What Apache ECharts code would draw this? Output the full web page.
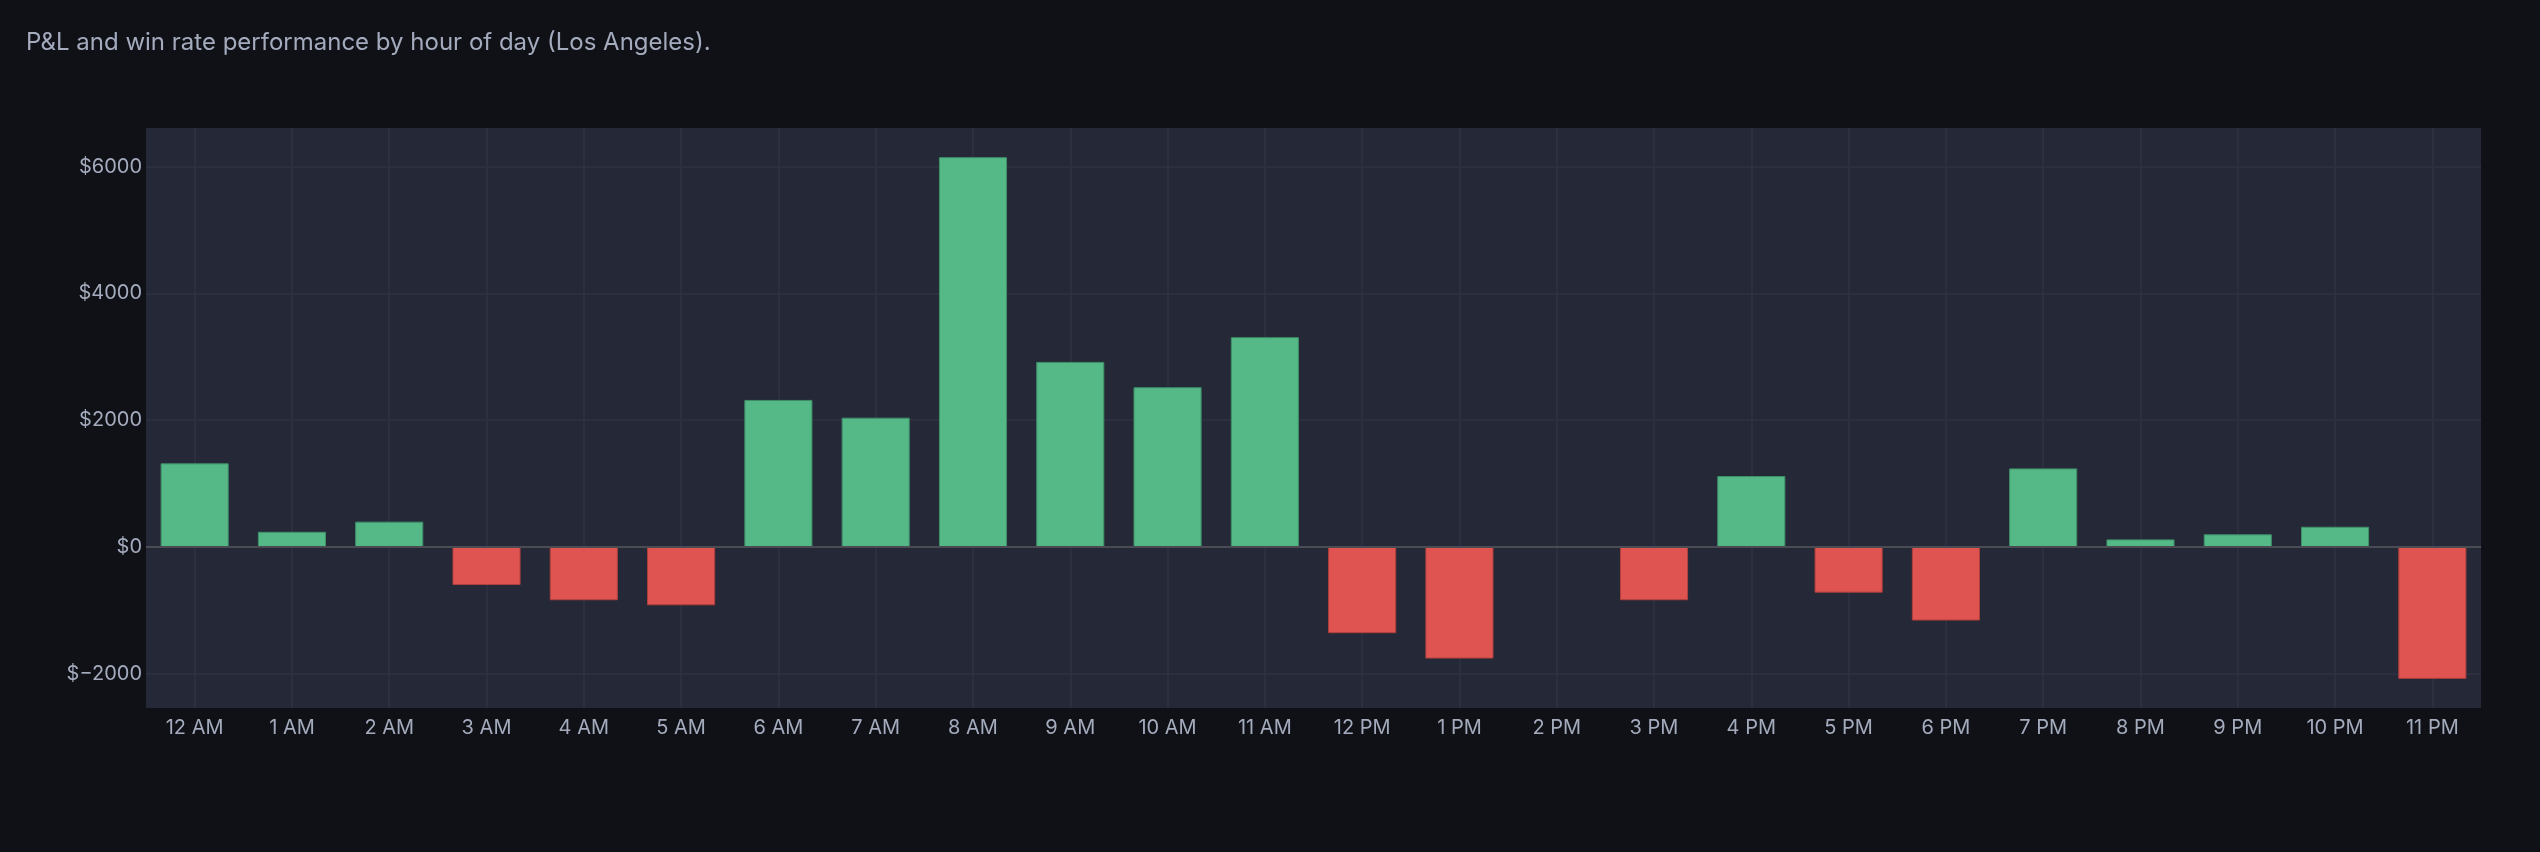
<!DOCTYPE html>
<html>
<head>
<meta charset="utf-8">
<title>P&amp;L by hour</title>
<script src="https://cdn.jsdelivr.net/npm/echarts@6/dist/echarts.min.js"></script>
<style>
  html, body { margin: 0; padding: 0; background: #0f1117; }
  #chart { width: 2540px; height: 852px; }
</style>
</head>
<body>
<div id="chart"></div>
<script>
// hour buckets (Los Angeles time)
var hours = ['12 AM', '1 AM', '2 AM', '3 AM', '4 AM', '5 AM', '6 AM', '7 AM', '8 AM', '9 AM', '10 AM', '11 AM',
             '12 PM', '1 PM', '2 PM', '3 PM', '4 PM', '5 PM', '6 PM', '7 PM', '8 PM', '9 PM', '10 PM', '11 PM'];
// P&L per hour
var pnl = [1320, 240, 400, -600, -840, -920, 2320, 2040, 6150, 2920, 2520, 3310,
           -1360, -1760, 0, -840, 1120, -720, -1160, 1240, 120, 200, 320, -2080];

var GREEN = '#54b887', RED = '#df5450';
var textColor = '#a3abbd';

var chart = echarts.init(document.getElementById('chart'));

chart.setOption({
    backgroundColor: '#0f1117',
    animation: false,
    textStyle: { fontFamily: 'Inter, "Noto Sans", sans-serif' },
    title: {
        text: 'P&L and win rate performance by hour of day (Los Angeles).',
        left: 26,
        top: 31,
        padding: 0,
        textStyle: { color: textColor, fontSize: 24, fontWeight: 'normal', fontFamily: 'Inter' }
    },
    grid: {
        left: 146, right: 59, top: 128, bottom: 144,
        show: true,
        backgroundColor: '#252837',
        borderWidth: 0
    },
    xAxis: {
        type: 'category',
        data: hours,
        axisLine: { show: false, onZero: false },
        axisTick: { show: false, alignWithLabel: true },
        axisLabel: { color: textColor, fontSize: 20, margin: 10, interval: 0 },
        splitLine: {
            show: true,
            interval: 0,
            alignWithLabel: true,
            lineStyle: { color: '#2f3243', width: 1.5 }
        }
    },
    yAxis: {
        type: 'value',
        min: -2540,
        max: 6610,
        splitNumber: 5,
        axisLine: { show: false },
        axisTick: { show: false },
        axisLabel: {
            color: textColor, fontSize: 20, margin: 4,
            showMinLabel: false, showMaxLabel: false,
            formatter: function (v) { return '$' + (v < 0 ? '\u2212' + (-v) : v); }
        },
        splitLine: {
            showMinLine: false, showMaxLine: false,
            lineStyle: { color: '#2f3243', width: 1.5 }
        }
    },
    series: [{
        type: 'bar',
        barCategoryGap: '30%',
        data: pnl.map(function (v) {
            return {
                value: v,
                itemStyle: {
                    color: v >= 0 ? GREEN : RED,
                    borderColor: v >= 0 ? '#3f8f68' : '#b0403d',
                    borderWidth: 1
                }
            };
        }),
        markLine: {
            silent: true,
            symbol: 'none',
            label: { show: false },
            lineStyle: { color: '#4a4b53', type: 'solid', width: 2 },
            data: [{ yAxis: 0 }]
        }
    }]
});
</script>
</body>
</html>
